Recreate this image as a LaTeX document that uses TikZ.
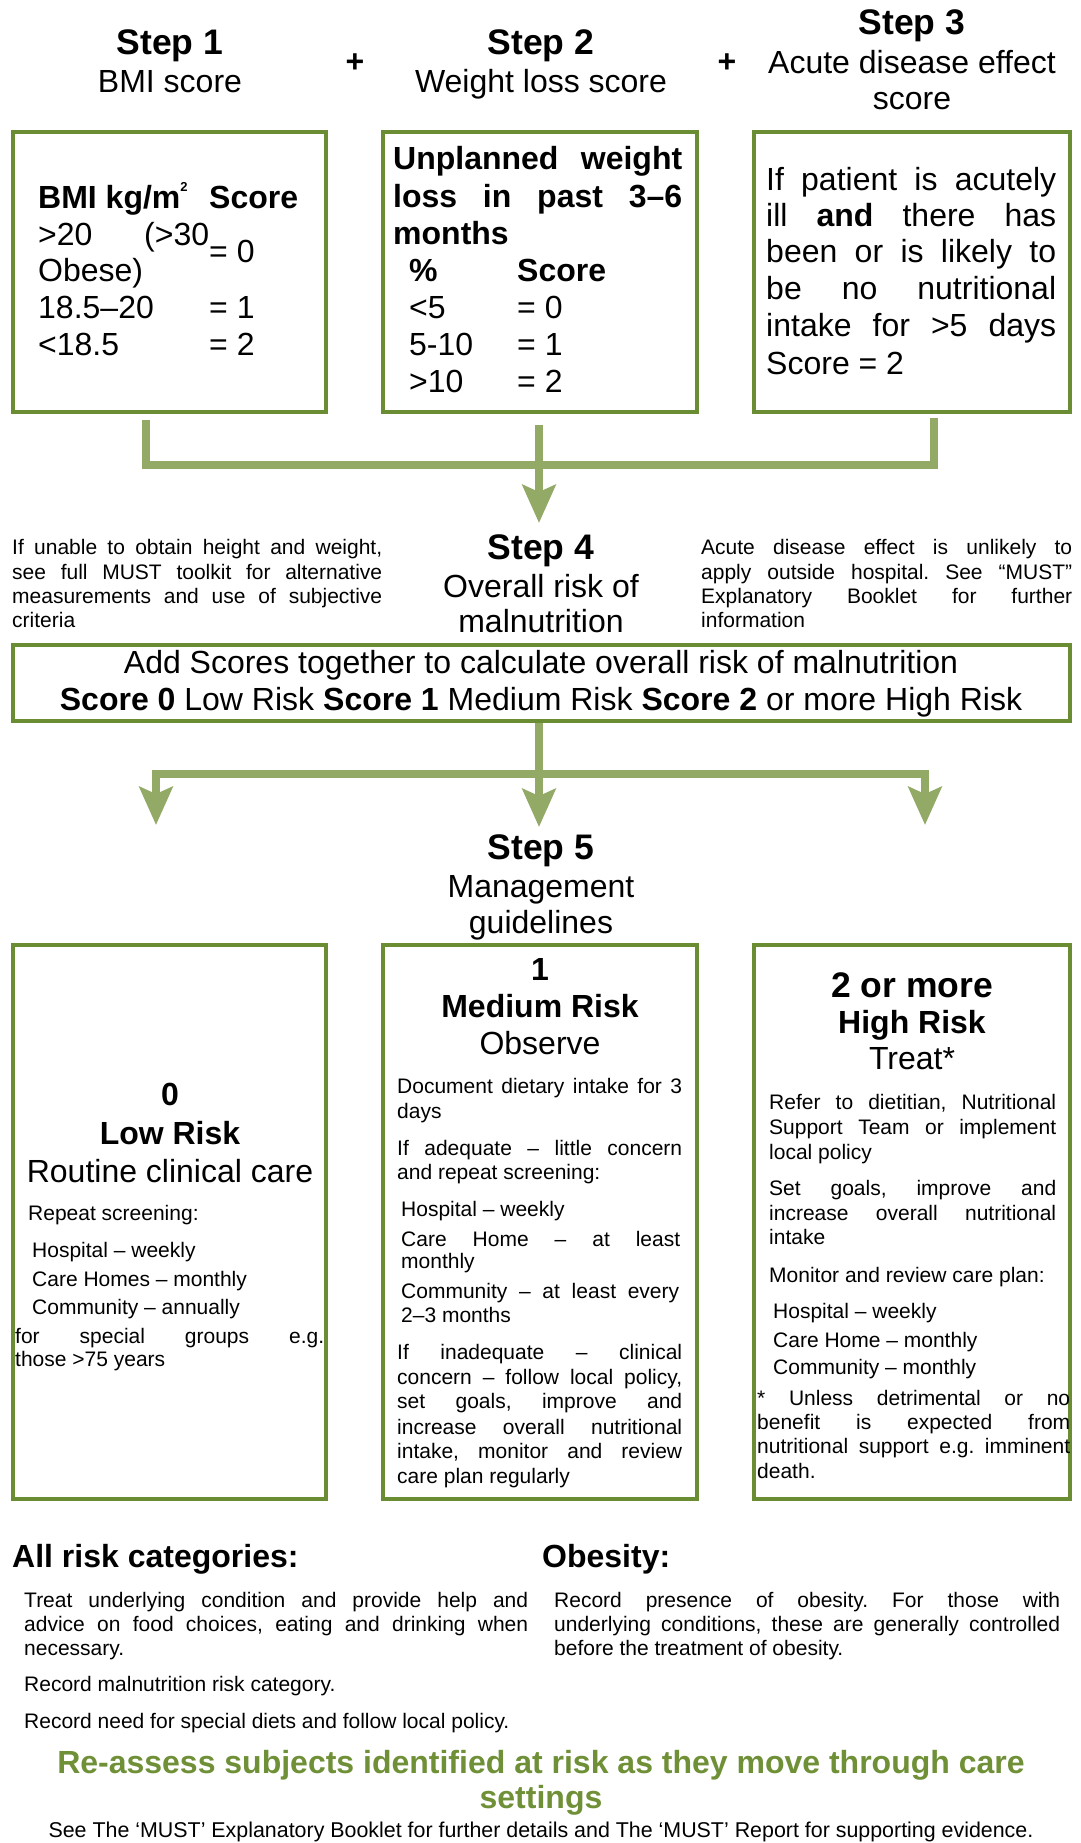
\documentclass[tikz,border=0pt]{standalone}
\usepackage{fontspec}
\setmainfont{Liberation Sans}
\usetikzlibrary{arrows.meta,calc}
\frenchspacing
\definecolor{boxgreen}{HTML}{6A8C32}
\definecolor{conngreen}{HTML}{93A966}
\definecolor{textgreen}{HTML}{6F9037}
\newcommand\justline[2]{\makebox[#1][s]{#2}}
\newcommand\tinysup[1]{\raisebox{0.55em}{\fontsize{13}{13}\selectfont #1}}
\tikzset{
  box/.style={draw=boxgreen, line width=4pt, inner sep=0pt},
  conn/.style={draw=conngreen, line width=8pt},
  tipconn/.style={conn, -{Stealth[length=38pt,width=33pt,inset=7pt]}},
  L/.style={inner sep=0pt, anchor=base west},
  C/.style={inner sep=0pt, anchor=base},
  fH/.style={font=\fontsize{35.5}{40}\selectfont\bfseries},
  fB/.style={font=\fontsize{32}{38}\selectfont\bfseries},
  fR/.style={font=\fontsize{32}{38}\selectfont},
  fS/.style={font=\fontsize{21}{25}\selectfont},
  fF/.style={font=\fontsize{21.4}{25}\selectfont},
}
\begin{document}
\begin{tikzpicture}[x=1pt,y=-1pt]
\useasboundingbox[fill=white] (0,0) rectangle (1080,1843);

% ---------- boxes ----------
\node[box, minimum width=313pt, minimum height=280pt] (box1) at (169.5,272) {};
\node[box, minimum width=314pt, minimum height=280pt] (box2) at (540,272) {};
\node[box, minimum width=316pt, minimum height=280pt] (box3) at (912,272) {};
\node[box, minimum width=1057pt, minimum height=76pt] (box4) at (541.5,683) {};
\node[box, minimum width=313pt, minimum height=554pt] (box5) at (169.5,1222) {};
\node[box, minimum width=314pt, minimum height=554pt] (box6) at (540,1222) {};
\node[box, minimum width=316pt, minimum height=554pt] (box7) at (912,1222) {};

% ---------- connectors ----------
\coordinate (c1) at ($(box1.south)+(-23.5,6)$);
\coordinate (c3) at ($(box3.south)+(22,4)$);
\coordinate (jn) at (539,465);
\coordinate (tip1) at (539,523);
\draw[conn] (c1) |- (jn);
\draw[conn] (c3) |- (jn);
\draw[tipconn] ($(box2.south)+(-1,11)$) -- (tip1);

\coordinate (jm) at (539,774);
\coordinate (tipL) at (156,825);
\coordinate (tipM) at (539,827);
\coordinate (tipR) at (925,825);
\draw[tipconn] (jm) -| (tipL);
\draw[tipconn] (jm) -| (tipR);
\draw[tipconn] ($(box4.south)+(-2.5,0)$) -- (tipM);

% ---------- step headings ----------
\node[C,fH] (s1) at (170,55) {Step 1};
\node[C,fR] (s1b) at (170,93) {BMI score};
\node[C,fH] (s2) at (541,55) {Step 2};
\node[C,fR] (s2b) at (541,93) {Weight loss score};
\node[C,fH] (s3) at (912,35) {Step 3};
\node[C,fR] (s3b) at (912,74) {Acute disease effect};
\node[C,fR] (s3c) at (912,110) {score};
\node[C,fB] (p1) at (355,73) {+};
\node[C,fB] (p2) at (727,73) {+};

% ---------- box 1 ----------
\node[L,fB] (b1a) at (38,209) {BMI kg/m\tinysup{2}};
\node[L,fB] (b1b) at (209,209) {Score};
\node[L,fR] (b1c) at (38,246) {>20};
\node[L,fR] (b1d) at (144,246) {(>30};
\node[L,fR] (b1e) at (209,263) {= 0};
\node[L,fR] (b1f) at (38,282) {Obese)};
\node[L,fR] (b1g) at (38,319) {18.5–20};
\node[L,fR] (b1h) at (209,319) {= 1};
\node[L,fR] (b1i) at (38,355) {<18.5};
\node[L,fR] (b1j) at (209,355) {= 2};

% ---------- box 2 ----------
\node[L,fB] (b2a) at (393,170) {\justline{289pt}{Unplanned weight}};
\node[L,fB] (b2b) at (393,208) {\justline{289pt}{loss in past 3–6}};
\node[L,fB] (b2c) at (393,245) {months};
\node[L,fB] (b2d) at (409,282) {\%};
\node[L,fB] (b2e) at (517,282) {Score};
\node[L,fR] (b2f) at (409,319) {<5};
\node[L,fR] (b2g) at (517,319) {= 0};
\node[L,fR] (b2h) at (409,355) {5-10};
\node[L,fR] (b2i) at (517,355) {= 1};
\node[L,fR] (b2j) at (409,392) {>10};
\node[L,fR] (b2k) at (517,392) {= 2};

% ---------- box 3 ----------
\node[L,fR] (b3a) at (766,191) {\justline{290pt}{If patient is acutely}};
\node[L,fR] (b3b) at (766,227) {\justline{290pt}{ill \textbf{and} there has}};
\node[L,fR] (b3c) at (766,263) {\justline{290pt}{been or is likely to}};
\node[L,fR] (b3d) at (766,300) {\justline{290pt}{be no nutritional}};
\node[L,fR] (b3e) at (766,337) {\justline{290pt}{intake for >5 days}};
\node[L,fR] (b3f) at (766,374) {Score = 2};

% ---------- step 4 ----------
\node[L,fS] (n1a) at (12,554) {\justline{370pt}{If unable to obtain height and weight,}};
\node[L,fS] (n1b) at (12,579) {\justline{370pt}{see full MUST toolkit for alternative}};
\node[L,fS] (n1c) at (12,603) {\justline{370pt}{measurements and use of subjective}};
\node[L,fS] (n1d) at (12,627) {criteria};
\node[L,fS] (n2a) at (701,554) {\justline{371pt}{Acute disease effect is unlikely to}};
\node[L,fS] (n2b) at (701,579) {\justline{371pt}{apply outside hospital. See “MUST”}};
\node[L,fS] (n2c) at (701,603) {\justline{371pt}{Explanatory Booklet for further}};
\node[L,fS] (n2d) at (701,627) {information};
\node[C,fH] (s4) at (541,559) {Step 4};
\node[C,fR] (s4b) at (541,597) {Overall risk of};
\node[C,fR] (s4c) at (541,632) {malnutrition};

% ---------- box 4 ----------
\node[C,fR] (b4a) at (541,673) {Add Scores together to calculate overall risk of malnutrition};
\node[C,fR] (b4b) at (541,710) {\textbf{Score 0} Low Risk \textbf{Score 1} Medium Risk \textbf{Score 2} or more High Risk};

% ---------- step 5 ----------
\node[C,fH] (s5) at (541,859) {Step 5};
\node[C,fR] (s5b) at (541,897) {Management};
\node[C,fR] (s5c) at (541,933) {guidelines};

% ---------- box 5 ----------
\node[C,fB] (b5a) at (170,1105) {0};
\node[C,fB] (b5b) at (170,1144) {Low Risk};
\node[C,fR] (b5c) at (170,1182) {Routine clinical care};
\node[L,fS] (b5d) at (28,1220) {Repeat screening:};
\node[L,fS] (b5e) at (32,1257) {Hospital – weekly};
\node[L,fS] (b5f) at (32,1286) {Care Homes – monthly};
\node[L,fS] (b5g) at (32,1314) {Community – annually};
\node[L,fS] (b5h) at (15,1343) {\justline{309pt}{for special groups e.g.}};
\node[L,fS] (b5i) at (15,1366) {those >75 years};

% ---------- box 6 ----------
\node[C,fB] (b6a) at (540,980) {1};
\node[C,fB] (b6b) at (540,1017) {Medium Risk};
\node[C,fR] (b6c) at (540,1054) {Observe};
\node[L,fS] (b6d) at (397,1093) {\justline{285pt}{Document dietary intake for 3}};
\node[L,fS] (b6e) at (397,1118) {days};
\node[L,fS] (b6f) at (397,1155) {\justline{285pt}{If adequate – little concern}};
\node[L,fS] (b6g) at (397,1179) {and repeat screening:};
\node[L,fS] (b6h) at (401,1216) {Hospital – weekly};
\node[L,fS] (b6i) at (401,1246) {\justline{279pt}{Care Home – at least}};
\node[L,fS] (b6j) at (401,1268) {monthly};
\node[L,fS] (b6k) at (401,1298) {\justline{278pt}{Community – at least every}};
\node[L,fS] (b6l) at (401,1322) {2–3 months};
\node[L,fS] (b6m) at (397,1359) {\justline{285pt}{If inadequate – clinical}};
\node[L,fS] (b6n) at (397,1384) {\justline{285pt}{concern – follow local policy,}};
\node[L,fS] (b6o) at (397,1408) {\justline{285pt}{set goals, improve and}};
\node[L,fS] (b6p) at (397,1434) {\justline{285pt}{increase overall nutritional}};
\node[L,fS] (b6q) at (397,1458) {\justline{285pt}{intake, monitor and review}};
\node[L,fS] (b6r) at (397,1483) {care plan regularly};

% ---------- box 7 ----------
\node[C,fH] (b7a) at (912,997) {2 or more};
\node[C,fB] (b7b) at (912,1033) {High Risk};
\node[C,fR] (b7c) at (912,1069) {Treat*};
\node[L,fS] (b7d) at (769,1109) {\justline{287pt}{Refer to dietitian, Nutritional}};
\node[L,fS] (b7e) at (769,1134) {\justline{287pt}{Support Team or implement}};
\node[L,fS] (b7f) at (769,1159) {local policy};
\node[L,fS] (b7g) at (769,1195) {\justline{287pt}{Set goals, improve and}};
\node[L,fS] (b7h) at (769,1220) {\justline{287pt}{increase overall nutritional}};
\node[L,fS] (b7i) at (769,1244) {intake};
\node[L,fS] (b7j) at (769,1282) {Monitor and review care plan:};
\node[L,fS] (b7k) at (773,1318) {Hospital – weekly};
\node[L,fS] (b7l) at (773,1347) {Care Home – monthly};
\node[L,fS] (b7m) at (773,1374) {Community – monthly};
\node[L,fS] (b7n) at (757,1405) {\justline{313pt}{* Unless detrimental or no}};
\node[L,fS] (b7o) at (757,1429) {\justline{313pt}{benefit is expected from}};
\node[L,fS] (b7p) at (757,1453) {\justline{313pt}{nutritional support e.g. imminent}};
\node[L,fS] (b7q) at (757,1478) {death.};

% ---------- bottom section ----------
\node[L,fB] (h1) at (12,1567) {All risk categories:};
\node[L,fB] (h2) at (542,1567) {Obesity:};
\node[L,fS] (a1) at (24,1607) {\justline{504pt}{Treat underlying condition and provide help and}};
\node[L,fS] (a2) at (24,1631) {\justline{504pt}{advice on food choices, eating and drinking when}};
\node[L,fS] (a3) at (24,1655) {necessary.};
\node[L,fS] (a4) at (24,1691) {Record malnutrition risk category.};
\node[L,fS] (a5) at (24,1728) {Record need for special diets and follow local policy.};
\node[L,fS] (o1) at (554,1607) {\justline{506pt}{Record presence of obesity. For those with}};
\node[L,fS] (o2) at (554,1631) {\justline{506pt}{underlying conditions, these are generally controlled}};
\node[L,fS] (o3) at (554,1655) {before the treatment of obesity.};
\node[C,fB,text=textgreen] (g1) at (541,1773) {Re-assess subjects identified at risk as they move through care};
\node[C,fB,text=textgreen] (g2) at (541,1808) {settings};
\node[C,fF] (f1) at (541,1837) {See The ‘MUST’ Explanatory Booklet for further details and The ‘MUST’ Report for supporting evidence.};
\end{tikzpicture}
\end{document}
